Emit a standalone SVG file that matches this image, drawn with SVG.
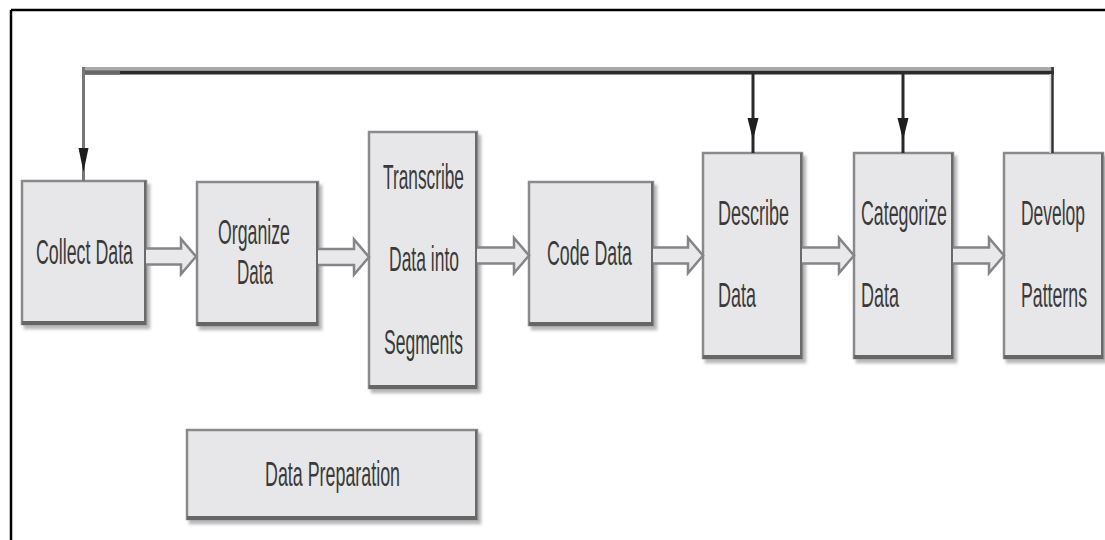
<svg xmlns="http://www.w3.org/2000/svg" width="1105" height="540" viewBox="0 0 1105 540">
<style>
.box{fill:#e7e7e9;stroke:#8a8a8a;stroke-width:2.5;filter:url(#sh)}
.bot{stroke:#666;stroke-width:4}
.rgt{stroke:#6a6a6a;stroke-width:2}
.t{font-family:"Liberation Sans",Arial,sans-serif;font-size:20px;fill:#3a3a3a}
.blk{fill:#e9e9eb;stroke:#858585;stroke-width:2.5;stroke-linejoin:miter}
.ah{fill:#1e1e1e}
</style>
<defs>
<filter id="sh" x="-10%" y="-10%" width="130%" height="130%">
<feGaussianBlur in="SourceAlpha" stdDeviation="1.5" result="b"/>
<feOffset in="b" dx="3" dy="4" result="o"/>
<feFlood flood-color="#888" flood-opacity="0.6"/>
<feComposite in2="o" operator="in" result="s"/>
<feMerge><feMergeNode in="s"/><feMergeNode in="SourceGraphic"/></feMerge>
</filter>
</defs>
<rect x="0" y="0" width="1105" height="540" fill="#fff"/>
<g id="frame" stroke="#000" stroke-width="2.5" fill="none">
<line x1="11" y1="10" x2="1105" y2="10"/>
<line x1="11" y1="10" x2="11" y2="540"/>
</g>

<g id="n-collect">
<rect class="box" x="22" y="181" width="124" height="143"/>
<line class="rgt" x1="145" y1="181" x2="145" y2="324"/>
<line class="bot" x1="22" y1="323" x2="146" y2="323"/>
<text class="t" transform="scale(1,1.75)" x="36" y="150.86" textLength="97" lengthAdjust="spacingAndGlyphs">Collect Data</text>
</g>
<g id="n-organize">
<rect class="box" x="197" y="182" width="121" height="143"/>
<line class="rgt" x1="317" y1="182" x2="317" y2="325"/>
<line class="bot" x1="197" y1="324" x2="318" y2="324"/>
<text class="t" transform="scale(1,1.75)" x="218" y="139.43" textLength="72" lengthAdjust="spacingAndGlyphs">Organize</text>
<text class="t" transform="scale(1,1.75)" x="237" y="162.29" textLength="36" lengthAdjust="spacingAndGlyphs">Data</text>
</g>
<g id="n-transcribe">
<rect class="box" x="369" y="132" width="108" height="256"/>
<line class="rgt" x1="476" y1="132" x2="476" y2="388"/>
<line class="bot" x1="369" y1="387" x2="477" y2="387"/>
<text class="t" transform="scale(1,1.75)" x="383" y="108" textLength="81" lengthAdjust="spacingAndGlyphs">Transcribe</text>
<text class="t" transform="scale(1,1.75)" x="389" y="154.86" textLength="70" lengthAdjust="spacingAndGlyphs">Data into</text>
<text class="t" transform="scale(1,1.75)" x="384" y="202.29" textLength="79" lengthAdjust="spacingAndGlyphs">Segments</text>
</g>
<g id="n-code">
<rect class="box" x="529" y="182" width="124" height="143"/>
<line class="rgt" x1="652" y1="182" x2="652" y2="325"/>
<line class="bot" x1="529" y1="324" x2="653" y2="324"/>
<text class="t" transform="scale(1,1.75)" x="547" y="151.43" textLength="85" lengthAdjust="spacingAndGlyphs">Code Data</text>
</g>
<g id="n-describe">
<rect class="box" x="703" y="153" width="99" height="205"/>
<line class="rgt" x1="801" y1="153" x2="801" y2="358"/>
<line class="bot" x1="703" y1="357" x2="802" y2="357"/>
<text class="t" transform="scale(1,1.75)" x="718" y="128.57" textLength="71" lengthAdjust="spacingAndGlyphs">Describe</text>
<text class="t" transform="scale(1,1.75)" x="718" y="175.43" textLength="38" lengthAdjust="spacingAndGlyphs">Data</text>
</g>
<g id="n-categorize">
<rect class="box" x="854" y="153" width="99" height="205"/>
<line class="rgt" x1="952" y1="153" x2="952" y2="358"/>
<line class="bot" x1="854" y1="357" x2="953" y2="357"/>
<text class="t" transform="scale(1,1.75)" x="861" y="128.57" textLength="86" lengthAdjust="spacingAndGlyphs">Categorize</text>
<text class="t" transform="scale(1,1.75)" x="861" y="175.43" textLength="38" lengthAdjust="spacingAndGlyphs">Data</text>
</g>
<g id="n-develop">
<rect class="box" x="1004" y="153" width="99" height="205"/>
<line class="rgt" x1="1102" y1="153" x2="1102" y2="358"/>
<line class="bot" x1="1004" y1="357" x2="1103" y2="357"/>
<text class="t" transform="scale(1,1.75)" x="1021" y="128.57" textLength="64" lengthAdjust="spacingAndGlyphs">Develop</text>
<text class="t" transform="scale(1,1.75)" x="1021" y="175.43" textLength="66" lengthAdjust="spacingAndGlyphs">Patterns</text>
</g>
<g id="n-dataprep">
<rect class="box" x="187" y="430" width="290" height="89"/>
<line class="rgt" x1="476" y1="430" x2="476" y2="519"/>
<line class="bot" x1="187" y1="518" x2="477" y2="518"/>
<text class="t" transform="scale(1,1.75)" x="265" y="277.71" textLength="135" lengthAdjust="spacingAndGlyphs">Data Preparation</text>
</g>

<g id="connectors">
<path class="blk" d="M146,248.5 H181 V239 L196,256.5 L181,274 V264.5 H146"/>
<path class="blk" d="M318,249 H354 V239.5 L369,257 L354,274.5 V265 H318"/>
<path class="blk" d="M477,247.5 H514 V238 L529,255.5 L514,273 V263.5 H477"/>
<path class="blk" d="M653,247.5 H688 V238 L703,255.5 L688,273 V263.5 H653"/>
<path class="blk" d="M802,247.5 H839 V238 L854,255.5 L839,273 V263.5 H802"/>
<path class="blk" d="M953,247.5 H989 V238 L1004,255.5 L989,273 V263.5 H953"/>

<line x1="82" y1="68.5" x2="1054" y2="68.5" stroke="#aaa" stroke-width="3"/>
<line x1="82" y1="72.5" x2="1054" y2="72.5" stroke="#2a2a2a" stroke-width="4"/>
<line x1="82" y1="72.5" x2="120" y2="72.5" stroke="#666" stroke-width="4"/>
<line x1="83.5" y1="67" x2="83.5" y2="181" stroke="#777" stroke-width="3"/>
<polygon class="ah" points="78.5,148 88.5,148 83.5,172"/>
<line x1="753" y1="72" x2="753" y2="153" stroke="#2a2a2a" stroke-width="3"/>
<polygon class="ah" points="747.5,118 758.5,118 753,140"/>
<line x1="903" y1="72" x2="903" y2="153" stroke="#2a2a2a" stroke-width="3"/>
<polygon class="ah" points="897.5,118 908.5,118 903,140"/>
<line x1="1050.5" y1="74" x2="1050.5" y2="153" stroke="#ddd" stroke-width="2"/>
<line x1="1052.5" y1="67" x2="1052.5" y2="153" stroke="#333" stroke-width="2.5"/>
</g>
</svg>
